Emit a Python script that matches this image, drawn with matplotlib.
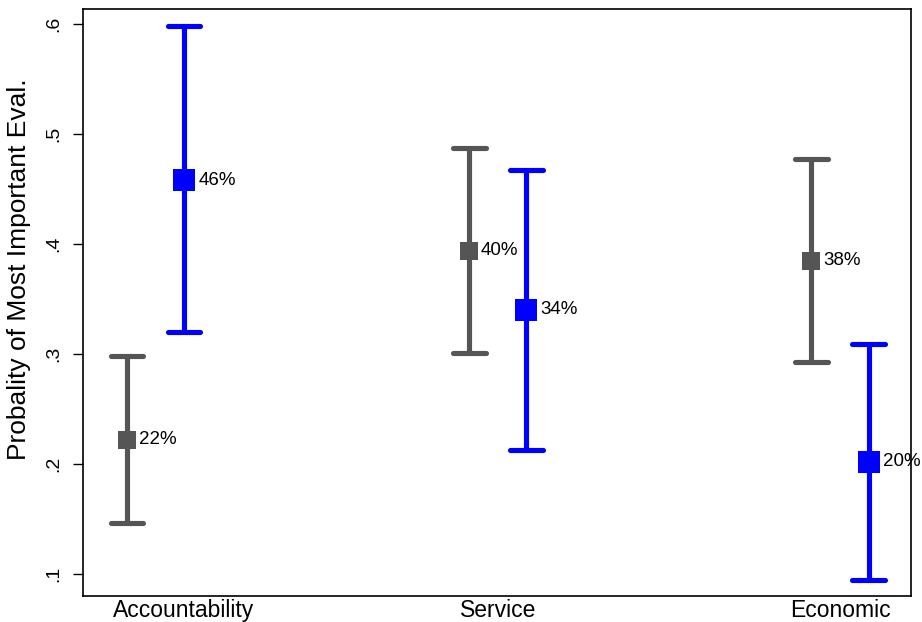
import matplotlib
matplotlib.use("Agg")
import matplotlib.pyplot as plt
import matplotlib.transforms as mtransforms
import numpy as np

plt.rcParams['font.family'] = ['Liberation Sans', 'DejaVu Sans']

categories = ["Accountability", "Service", "Economic"]
gray_est = [0.222, 0.394, 0.385]
gray_lo = [0.146, 0.301, 0.293]
gray_hi = [0.298, 0.487, 0.477]
blue_est = [0.458, 0.340, 0.202]
blue_lo = [0.320, 0.213, 0.095]
blue_hi = [0.598, 0.467, 0.309]
gray_labels = ["22%", "40%", "38%"]
blue_labels = ["46%", "34%", "20%"]

W, H = 922, 622
fig = plt.figure(figsize=(W / 100, H / 100), dpi=100)
L, R, T, B = 83, 911, 9, 596
ax = fig.add_axes([L / W, 1 - B / H, (R - L) / W, (B - T) / H])

xc = np.arange(1, len(categories) + 1)
off = 0.0833
cap = 0.048
lw = 3.7

def draw(xs, est, lo, hi, color, msize, labels, dx):
    ax.vlines(xs, lo, hi, colors=color, linewidth=lw, zorder=2)
    for y in (lo, hi):
        lc = ax.hlines(y, xs - cap, xs + cap, colors=color, linewidth=lw, zorder=2)
        lc.set_capstyle('round')
    ax.plot(xs, est, linestyle='none', marker='s', markersize=msize,
            color=color, markeredgewidth=0, zorder=3)
    for x, y, t in zip(xs, est, labels):
        ax.annotate(t, (x, y), xytext=(dx, 0), textcoords='offset points',
                    ha='left', va='center', fontsize=13.5, color='black')

draw(xc - off, gray_est, gray_lo, gray_hi, '#555555', 12.5, gray_labels, 8.5)
draw(xc + off, blue_est, blue_lo, blue_hi, '#0000ff', 16.5, blue_labels, 10.5)

ax.set_xlim(1 - (155.5 - L) / 342.25, 3 + (R - 840) / 342.25)
ax.set_ylim(0.1 - (B - 574) / 1100, 0.6 + (24 - T) / 1100)

ax.set_yticks([0.1, 0.2, 0.3, 0.4, 0.5, 0.6])
ax.set_yticklabels(['.1', '.2', '.3', '.4', '.5', '.6'])
ax.tick_params(axis='y', labelrotation=90, length=7.2, width=1, labelsize=14, pad=8)
for lab in ax.get_yticklabels():
    lab.set_va('center')

ax.set_xticks(xc)
ax.set_xticklabels(categories, fontsize=16.5)
ax.tick_params(axis='x', length=0, pad=2.5)
xl = ax.get_xticklabels()
xl[0].set_transform(xl[0].get_transform() + mtransforms.ScaledTranslation(28 / 100, 0, fig.dpi_scale_trans))

ax.set_ylabel("Probality of Most Important Eval.", fontsize=19)
ax.yaxis.set_label_coords((31 - L) / (R - L), (B - 269) / (B - T))

for s in ax.spines.values():
    s.set_linewidth(1.2)

fig.savefig("out.png", dpi=100)
